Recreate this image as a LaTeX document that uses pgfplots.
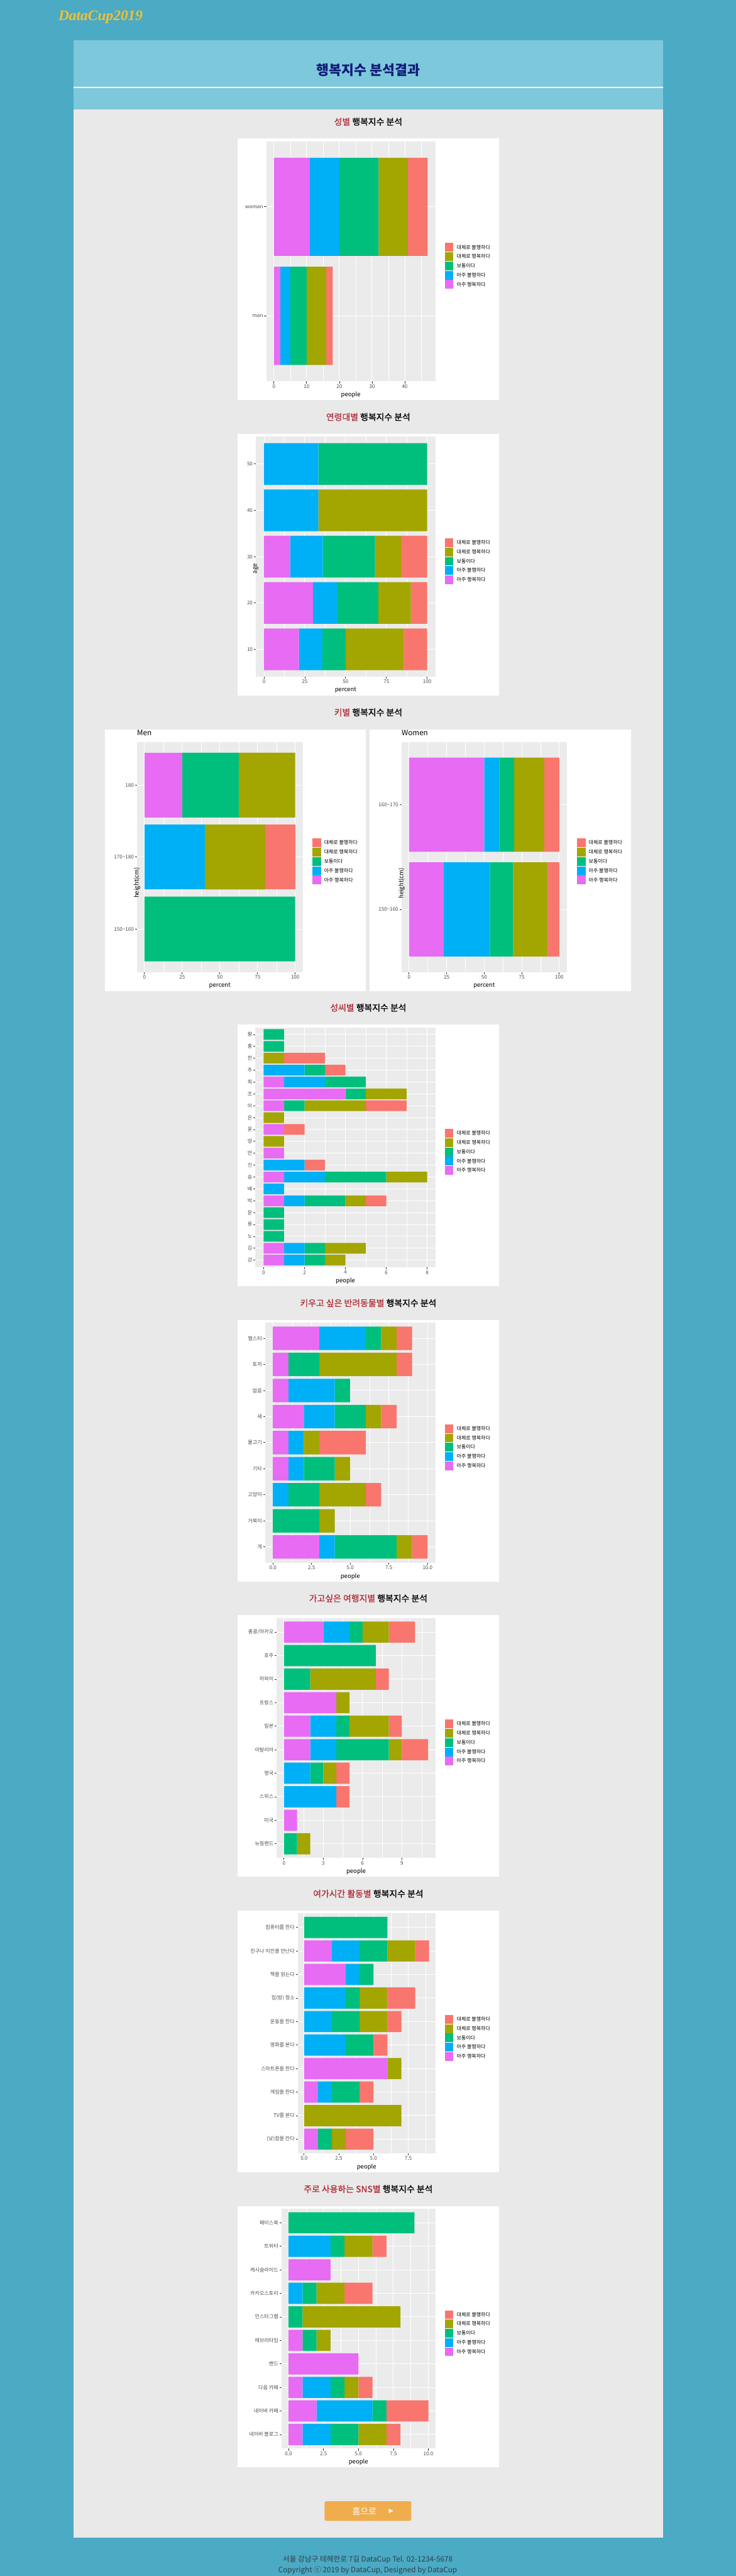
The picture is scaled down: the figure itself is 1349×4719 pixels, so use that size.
\documentclass[border=0pt]{standalone}
\usepackage{fontspec}
\usepackage{pgfplots}
\pgfplotsset{compat=1.18}
\usepackage{pgfplotstable}
\setmainfont{Noto Sans CJK KR}
\newfontfamily\semib[FakeBold=1.2]{Noto Sans CJK KR}
\newfontfamily\dcfont{Liberation Serif}
\newfontfamily\symfont{DejaVu Sans}
\newcommand\setfs[1]{\fontsize{#1}{#1}\selectfont}

\definecolor{bgteal}{HTML}{4BAAC4}
\definecolor{hdrblue}{HTML}{7EC8DC}
\definecolor{pagegray}{HTML}{E9E9E9}
\definecolor{ggpanel}{HTML}{EBEBEB}
\definecolor{ggtxt}{HTML}{4D4D4D}
\definecolor{ggtickc}{HTML}{333333}
\definecolor{ggred}{HTML}{F8766D}
\definecolor{ggolive}{HTML}{A3A500}
\definecolor{gggreen}{HTML}{00BF7D}
\definecolor{ggblue}{HTML}{00B0F6}
\definecolor{ggpink}{HTML}{E76BF3}
\definecolor{titlered}{HTML}{B22F3A}
\definecolor{navyt}{HTML}{101C78}
\definecolor{gold}{HTML}{F2C12E}
\definecolor{btn}{HTML}{F0AD4E}
\definecolor{foot}{HTML}{2E3D4A}

\pgfplotstableread{
y p b g o r
1 2 3 5 6 2
2 11 9 12 9 6
}\tabA
\pgfplotstableread{
y p b g o r
10 21.43 14.29 14.29 35.71 14.29
20 30 15 25 20 10
30 16 20 32 16 16
40 0 33.33 0 66.67 0
50 0 33.33 66.67 0 0
}\tabB
\pgfplotstableread{
y p b g o r
1 0 0 100 0 0
2 0 40 0 40 20
3 25 0 37.5 37.5 0
}\tabCm
\pgfplotstableread{
y p b g o r
1 23.08 30.77 15.38 23.08 7.69
2 50 10 10 20 10
}\tabCw
\pgfplotstableread{
y p b g o r
1 1 1 1 1 0
2 1 1 1 2 0
3 0 0 1 0 0
4 0 0 1 0 0
5 0 0 1 0 0
6 1 1 2 1 1
7 0 1 0 0 0
8 1 2 3 2 0
9 0 2 0 0 1
10 1 0 0 0 0
11 0 0 0 1 0
12 1 0 0 0 1
13 0 0 0 1 0
14 1 0 1 3 2
15 4 0 1 2 0
16 1 2 2 0 0
17 0 2 1 0 1
18 0 0 0 1 2
19 0 0 1 0 0
20 0 0 1 0 0
}\tabD
\pgfplotstableread{
y p b g o r
1 3 1 4 1 1
2 0 0 3 1 0
3 0 1 2 3 1
4 1 1 2 1 0
5 1 1 0 1 3
6 2 2 2 1 1
7 1 3 1 0 0
8 1 0 2 5 1
9 3 3 1 1 1
}\tabE
\pgfplotstableread{
y p b g o r
1 0 0 1 1 0
2 1 0 0 0 0
3 0 4 0 0 1
4 0 2 1 1 1
5 2 2 4 1 2
6 2 2 1 3 1
7 4 0 0 1 0
8 0 0 2 5 1
9 0 0 7 0 0
10 3 2 1 2 2
}\tabF
\pgfplotstableread{
y p b g o r
1 1 0 1 1 2
2 0 0 0 7 0
3 1 1 2 0 1
4 6 0 0 1 0
5 0 3 2 0 1
6 0 2 2 2 1
7 0 3 1 2 2
8 3 1 1 0 0
9 2 2 2 2 1
10 0 0 6 0 0
}\tabG
\pgfplotstableread{
y p b g o r
1 1 2 2 2 1
2 2 4 1 0 3
3 1 2 1 1 1
4 5 0 0 0 0
5 1 0 1 1 0
6 0 0 1 7 0
7 0 1 1 2 2
8 3 0 0 0 0
9 0 3 1 2 1
10 0 0 9 0 0
}\tabH

\newcommand\ggkey[1]{\fill[#1] (0pt,-8pt) rectangle (16pt,8pt); \path (22pt,0pt);}
\newcommand\ggbars[1]{%
\addplot[fill=ggpink,draw=none,legend image code/.code={\ggkey{ggpink}}] table[x=p,y=y]{#1};
\addplot[fill=ggblue,draw=none,legend image code/.code={\ggkey{ggblue}}] table[x=b,y=y]{#1};
\addplot[fill=gggreen,draw=none,legend image code/.code={\ggkey{gggreen}}] table[x=g,y=y]{#1};
\addplot[fill=ggolive,draw=none,legend image code/.code={\ggkey{ggolive}}] table[x=o,y=y]{#1};
\addplot[fill=ggred,draw=none,legend image code/.code={\ggkey{ggred}}] table[x=r,y=y]{#1};
\legend{아주 행복하다,아주 불행하다,보통이다,대체로 행복하다,대체로 불행하다}}

\pgfplotsset{gg/.style={
  anchor=south west, scale only axis,
  xbar stacked, bar width=0.9,
  axis background/.style={fill=ggpanel},
  axis line style={draw=none},
  xmajorgrids, ymajorgrids, xminorgrids,
  major grid style={white, line width=1.1pt},
  minor grid style={white, line width=0.55pt},
  tick align=outside, xtick pos=left, ytick pos=left,
  major tick length=3.7pt, minor tick length=0pt,
  tick style={ggtickc, line width=0.9pt},
  ticklabel style={font=\setfs{9.3}, text=ggtxt},
  /pgf/number format/assume math mode=true,
  yticklabel style={anchor=east, inner sep=0pt, xshift=-2pt},
  xticklabel style={anchor=north, inner sep=0pt, yshift=-2pt},
  xlabel style={font=\setfs{11}, at={(axis description cs:0.5,0)}, anchor=center, yshift=-25pt},
  ylabel style={font=\setfs{11}, at={(axis description cs:0,0.5)}, anchor=center},
  reverse legend, legend cell align=left,
  legend style={draw=none, fill=none, inner sep=0pt, anchor=north west, row sep=1pt,
    nodes={inner sep=0pt, font=\setfs{9.2}, text=black}},
}}

\newcommand\sectitle[3]{\node[font=\semib\setfs{16}] at (675,#1) {\textcolor{titlered}{#2} #3};}

\begin{document}
\begin{tikzpicture}
\path[use as bounding box] (0pt,0pt) rectangle (1349pt,-4719pt);
\begin{scope}[x=1pt,y=-1pt]
\fill[bgteal] (0,0) rectangle (1349,4719);
\fill[hdrblue] (135,74) rectangle (1215,201);
\draw[white, line width=1.5pt] (135,160) -- (1215,160);
\fill[pagegray] (135,201) rectangle (1215,4649);
\node[anchor=base west, text=gold, font=\dcfont\bfseries\itshape\setfs{27}, inner sep=0pt] at (107,38) {DataCup2019};
\node[text=navyt, font=\bfseries\setfs{25}] at (675,128) {행복지수 분석결과};
\sectitle{223}{성별}{행복지수 분석}
\sectitle{764}{연령대별}{행복지수 분석}
\sectitle{1305}{키별}{행복지수 분석}
\sectitle{1846}{성씨별}{행복지수 분석}
\sectitle{2387}{키우고 싶은 반려동물별}{행복지수 분석}
\sectitle{2928}{가고싶은 여행지별}{행복지수 분석}
\sectitle{3469}{여가시간 활동별}{행복지수 분석}
\sectitle{4010}{주로 사용하는 SNS별}{행복지수 분석}
\foreach \t in {254,795,1877,2418,2959,3500,4041}{\fill[white] (435,\t) rectangle (915,\t+479);}
\fill[white] (192.5,1336) rectangle (671,1816);
\fill[white] (677,1336) rectangle (1157,1816);
\fill[btn, rounded corners=3pt] (595,4582) rectangle (754,4618);
\node[text=white, font=\setfs{16}] at (668,4600) {홈으로};
\node[text=white, font=\symfont\setfs{11}] at (717,4600) {▶};
\node[text=foot, font=\setfs{13.5}] at (674,4689) {서울 강남구 테헤란로 7길 DataCup Tel. 02-1234-5678};
\node[text=foot, font=\setfs{13.5}] at (674,4709) {Copyright ⓒ 2019 by DataCup, Designed by DataCup};
\end{scope}

% Chart 1
\begin{axis}[gg, at={(488pt,-698.5pt)}, width=310pt, height=439.5pt,
  xmin=-2.35, xmax=49.35, ymin=0.4, ymax=2.6,
  xtick={0,10,20,30,40}, minor xtick={5,15,25,35,45},
  ytick={1,2}, yticklabels={man,woman}, xlabel={people},
  legend style={at={(1.0548,0.5768)}}]
\ggbars{\tabA}
\end{axis}

% Chart 2
\begin{axis}[gg, at={(469pt,-1239.5pt)}, width=329pt, height=439.5pt,
  bar width=9,
  xmin=-5, xmax=105, ymin=4.1, ymax=55.9,
  xtick={0,25,50,75,100}, minor xtick={12.5,37.5,62.5,87.5},
  ytick={10,20,30,40,50}, xlabel={percent}, ylabel={age},
  ylabel style={xshift=-22pt},
  legend style={at={(1.0517,0.5768)}}]
\ggbars{\tabB}
\end{axis}

% Chart 3 men
\begin{axis}[gg, at={(251pt,-1781pt)}, width=304pt, height=422pt,
  xmin=-5, xmax=105, ymin=0.4, ymax=3.6,
  xtick={0,25,50,75,100}, minor xtick={12.5,37.5,62.5,87.5},
  ytick={1,2,3}, yticklabels={150\textasciitilde160,170\textasciitilde180,180},
  xlabel={percent}, ylabel={height(cm)}, ylabel style={xshift=-47pt},
  title={Men}, title style={at={(axis description cs:0,1)}, anchor=west, yshift=11pt, inner sep=0pt, font=\setfs{13.5}},
  legend style={at={(1.0559,0.5806)}}]
\ggbars{\tabCm}
\end{axis}

% Chart 3 women
\begin{axis}[gg, at={(736pt,-1781pt)}, width=303pt, height=422pt,
  xmin=-5, xmax=105, ymin=0.4, ymax=2.6,
  xtick={0,25,50,75,100}, minor xtick={12.5,37.5,62.5,87.5},
  ytick={1,2}, yticklabels={150\textasciitilde160,160\textasciitilde170},
  xlabel={percent}, ylabel={height(cm)}, ylabel style={xshift=-48pt},
  title={Women}, title style={at={(axis description cs:0,1)}, anchor=west, yshift=11pt, inner sep=0pt, font=\setfs{13.5}},
  legend style={at={(1.0594,0.5806)}}]
\ggbars{\tabCw}
\end{axis}

% Chart 4
\begin{axis}[gg, at={(468.3pt,-2321.5pt)}, width=329.7pt, height=439.5pt,
  xmin=-0.4, xmax=8.4, ymin=0.4, ymax=20.6,
  xtick={0,2,4,6,8}, minor xtick={1,3,5,7},
  ytick={1,...,20}, yticklabels={강,김,노,류,문,박,배,송,신,안,양,윤,은,이,조,최,추,한,홍,황},
  xlabel={people},
  legend style={at={(1.0516,0.5768)}}]
\ggbars{\tabD}
\end{axis}

% Chart 5
\begin{axis}[gg, at={(486pt,-2862.5pt)}, width=312pt, height=439.5pt,
  xmin=-0.5, xmax=10.5, ymin=0.4, ymax=9.6,
  xtick={0,2.5,5,7.5,10}, xticklabels={0.0,2.5,5.0,7.5,10.0}, minor xtick={1.25,3.75,6.25,8.75},
  ytick={1,...,9}, yticklabels={개,거북이,고양이,기타,물고기,새,없음,토끼,햄스터},
  xlabel={people},
  legend style={at={(1.0545,0.5768)}}]
\ggbars{\tabE}
\end{axis}

% Chart 6
\begin{axis}[gg, at={(507.3pt,-3403.5pt)}, width=290.7pt, height=439.5pt,
  xmin=-0.55, xmax=11.55, ymin=0.4, ymax=10.6,
  xtick={0,3,6,9}, minor xtick={1.5,4.5,7.5,10.5},
  ytick={1,...,10}, yticklabels={뉴질랜드,미국,스위스,영국,이탈리아,일본,프랑스,하와이,호주,홍콩/마카오},
  xlabel={people},
  legend style={at={(1.0585,0.5768)}}]
\ggbars{\tabF}
\end{axis}

% Chart 7
\begin{axis}[gg, at={(546pt,-3944.5pt)}, width=252pt, height=439.5pt,
  xmin=-0.45, xmax=9.45, ymin=0.4, ymax=10.6,
  xtick={0,2.5,5,7.5}, xticklabels={0.0,2.5,5.0,7.5}, minor xtick={1.25,3.75,6.25,8.75},
  ytick={1,...,10}, yticklabels={(낮)잠을 잔다,TV를 본다,게임을 한다,스마트폰을 한다,영화를 본다,운동을 한다,집(방) 청소,책을 읽는다,친구나 지인을 만난다,컴퓨터를 한다},
  xlabel={people},
  legend style={at={(1.0675,0.5768)}}]
\ggbars{\tabG}
\end{axis}

% Chart 8
\begin{axis}[gg, at={(516pt,-4485.5pt)}, width=282pt, height=439.5pt,
  xmin=-0.5, xmax=10.5, ymin=0.4, ymax=10.6,
  xtick={0,2.5,5,7.5,10}, xticklabels={0.0,2.5,5.0,7.5,10.0}, minor xtick={1.25,3.75,6.25,8.75},
  ytick={1,...,10}, yticklabels={네이버 블로그,네이버 카페,다음 카페,밴드,에브리타임,인스타그램,카카오스토리,캐시슬라이드,트위터,페이스북},
  xlabel={people},
  legend style={at={(1.0603,0.5768)}}]
\ggbars{\tabH}
\end{axis}
\end{tikzpicture}
\end{document}
